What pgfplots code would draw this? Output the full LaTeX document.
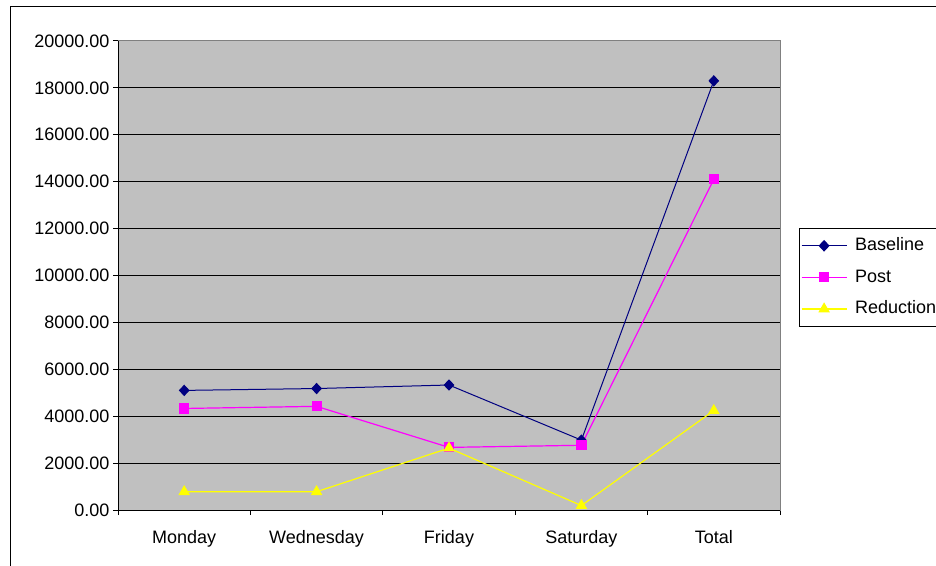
\documentclass[border=0pt]{standalone}
\usepackage{pgfplots}
\pgfplotsset{compat=1.18}
\usepackage{fontspec}
\setmainfont{Liberation Sans}
\definecolor{plotgray}{HTML}{C0C0C0}
\definecolor{navyb}{HTML}{000080}
\definecolor{magb}{HTML}{FF00FF}
\definecolor{yelb}{HTML}{FFFF00}
\begin{document}
\begin{tikzpicture}
\useasboundingbox (0,0) rectangle (936pt,565pt);
\clip (0,0) rectangle (936pt,565pt);
\fill[white] (0,0) rectangle (936pt,565pt);
\draw[black, line width=1pt] (10pt,558pt) rectangle (980pt,-20pt);
\begin{axis}[
  at={(118pt,55pt)}, anchor=south west, scale only axis,
  width=662pt, height=469pt,
  xmin=-0.5, xmax=4.5, ymin=0, ymax=20000,
  xtick={-0.5,0.5,1.5,2.5,3.5,4.5}, xticklabels={},
  extra x ticks={0,1,2,3,4},
  extra x tick labels={Monday,Wednesday,Friday,Saturday,Total},
  extra x tick style={major tick length=0pt, grid=none,
     xticklabel style={yshift=-17pt}},
  ytick={0,2000,...,20000},
  tick pos=left,
  tick align=outside, major tick length=5pt,
  tick style={black, line width=1pt},
  ymajorgrids, major grid style={black, line width=1pt},
  axis background/.style={fill=plotgray},
  axis line style={draw=gray, line width=1pt},
  ticklabel style={font=\fontsize{18}{21}\selectfont},
  yticklabel style={/pgf/number format/.cd, fixed, fixed zerofill, precision=2, 1000 sep={}},
  /pgf/number format/assume math mode=true,
  scaled y ticks=false,
  legend cell align=left,
  legend style={at={(1.0287,0.6013)}, anchor=north west,
     draw=black, line width=1pt, fill=white, inner sep=1.5pt, row sep=0pt,
     font=\fontsize{18}{21}\selectfont,
     nodes={inner xsep=3pt, inner ysep=7.8pt, text height=13pt, text depth=3pt},
     /tikz/every odd column/.append style={column sep=5pt}},
  legend image code/.code={\draw[line width=1.2pt, mark repeat=2,mark phase=2] plot coordinates {(0pt,0pt) (22.5pt,0pt) (45pt,0pt)};},
]
\addplot[navyb, line width=1pt, mark=diamond*, mark size=5pt, mark options={solid, fill=navyb, xscale=1.25}]
  coordinates {(0,5100) (1,5180) (2,5330) (3,2980) (4,18300)};
\addlegendentry{Baseline}
\addplot[magb, line width=1.2pt, mark=square*, mark size=4.5pt, mark options={solid, fill=magb}]
  coordinates {(0,4330) (1,4420) (2,2670) (3,2760) (4,14100)};
\addlegendentry{Post}
\addplot[yelb, line width=1.2pt, mark=triangle*, mark size=5.5pt, mark options={solid, fill=yelb}]
  coordinates {(0,780) (1,780) (2,2640) (3,190) (4,4240)};
\addlegendentry{Reduction}
\draw[black, line width=1pt] (rel axis cs:0,0) -- (rel axis cs:0,1);
\draw[black, line width=1pt] (rel axis cs:0,0) -- (rel axis cs:1,0);
\end{axis}
\end{tikzpicture}
\end{document}
